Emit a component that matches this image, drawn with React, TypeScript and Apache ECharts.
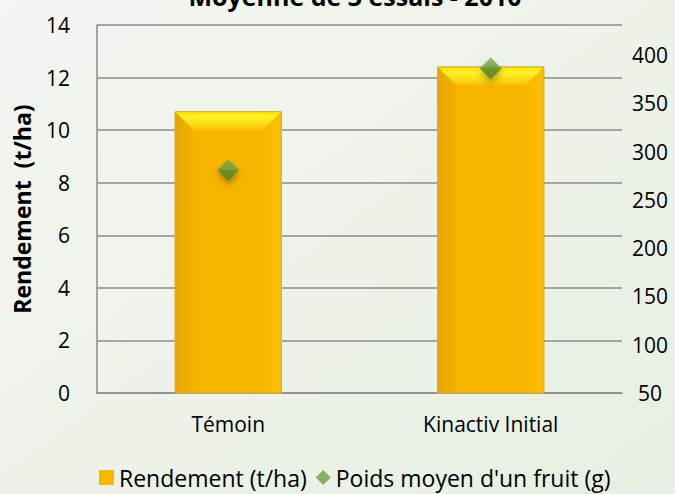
import React, { useEffect, useRef } from "react";
import * as echarts from "echarts";

const categories = ["Témoin", "Kinactiv Initial"];
const rendement = [10.7, 12.4];
const poidsMoyen = [281, 386];
const leftTicks = [0, 14, 2];
const rightTicks = [50, 431, 50];

const FONT = "Open Sans";

export default function App() {
  const ref = useRef<HTMLDivElement>(null);
  useEffect(() => {
    document.body.style.margin = "0";
    const chart = echarts.init(ref.current!, null, { renderer: "svg" });
    const barData = rendement.map((v, i) => [i, v]);
    chart.setOption({
      animation: false,
      backgroundColor: new echarts.graphic.LinearGradient(0, 0, 1, 1, [
        { offset: 0, color: "#f3f6f1" },
        { offset: 1, color: "#e7efe2" },
      ]),
      title: {
        text: "Moyenne de 3 essais - 2010",
        left: 350,
        textAlign: "center",
        top: -22,
        textStyle: { fontFamily: FONT, fontWeight: "bold", fontSize: 25, color: "#000" },
      },
      grid: { left: 97, right: 53, top: 25, bottom: 101, outerBoundsMode: "none", containLabel: false },
      legend: {
        bottom: 0,
        left: 94,
        itemWidth: 15,
        itemHeight: 15,
        itemGap: 9,
        textStyle: { fontFamily: FONT, fontSize: 23, color: "#000" },
        data: [
          { name: "Rendement (t/ha)", icon: "rect", itemStyle: { color: "#f7b800" } },
          { name: "Poids moyen d'un fruit (g)", icon: "diamond", itemStyle: { color: "#6e9e40" } },
        ],
      },
      xAxis: {
        type: "category",
        data: categories,
        axisTick: { show: false },
        axisLine: { show: true, lineStyle: { color: "#8c8c8c", width: 1.5 } },
        axisLabel: { margin: 20, fontFamily: FONT, fontSize: 21, color: "#000" },
      },
      yAxis: [
        {
          type: "value",
          name: "Rendement  (t/ha)",
          nameLocation: "middle",
          nameGap: 64,
          nameRotate: 90,
          nameTextStyle: { fontFamily: FONT, fontWeight: "bold", fontSize: 23, color: "#000" },
          min: leftTicks[0],
          max: leftTicks[1],
          interval: leftTicks[2],
          axisLine: { show: true, lineStyle: { color: "#8c8c8c", width: 1.5 } },
          axisTick: { show: false },
          splitLine: { lineStyle: { color: "#8c8c8c", width: 1.5 } },
          axisLabel: { margin: 27, fontFamily: FONT, fontSize: 21, color: "#000" },
        },
        {
          type: "value",
          position: "right",
          min: rightTicks[0],
          max: rightTicks[1],
          interval: rightTicks[2],
          axisLine: { show: false },
          axisTick: { show: false },
          splitLine: { show: false },
          axisLabel: {
            margin: 28,
            align: "center",
            showMaxLabel: false,
            fontFamily: FONT,
            fontSize: 21,
            color: "#000",
          },
        },
      ],
      series: [
        {
          name: "Rendement (t/ha)",
          type: "custom",
          itemStyle: { color: "#f7b800" },
          encode: { x: 0, y: 1 },
          data: barData,
          renderItem: (params: any, api: any) => {
            const idx = api.value(0);
            const val = api.value(1);
            const top = api.coord([idx, val]);
            const bot = api.coord([idx, 0]);
            const w = api.size([1, 0])[0] * 0.404;
            const l = top[0] - w / 2;
            const r = top[0] + w / 2;
            const t = top[1];
            const b = bot[1];
            const bv = 18;
            return {
              type: "group",
              children: [
                {
                  type: "rect",
                  shape: { x: l, y: t, width: r - l, height: b - t },
                  style: { fill: "#f7b500", stroke: "#c9a43c", lineWidth: 1 },
                },
                {
                  type: "polygon",
                  shape: { points: [[l, t], [l + bv, t + bv], [l + bv, b], [l, b]] },
                  style: {
                    fill: new echarts.graphic.LinearGradient(0, 0, 1, 0, [
                      { offset: 0, color: "#e9a500" },
                      { offset: 1, color: "#f3b100" },
                    ]),
                  },
                },
                {
                  type: "polygon",
                  shape: { points: [[r, t], [r - bv, t + bv], [r - bv, b], [r, b]] },
                  style: {
                    fill: new echarts.graphic.LinearGradient(0, 0, 1, 0, [
                      { offset: 0, color: "#f9b900" },
                      { offset: 1, color: "#fbbf05" },
                    ]),
                  },
                },
                {
                  type: "polygon",
                  shape: { points: [[l, t], [r, t], [r - bv, t + bv], [l + bv, t + bv]] },
                  style: {
                    fill: new echarts.graphic.LinearGradient(0, 0, 0, 1, [
                      { offset: 0, color: "#ffe600" },
                      { offset: 0.35, color: "#fff02a" },
                      { offset: 1, color: "#f8c400" },
                    ]),
                  },
                },
                {
                  type: "rect",
                  shape: { x: l, y: t, width: r - l, height: b - t },
                  style: { fill: "none", stroke: "#d4ad3c", lineWidth: 1 },
                },
              ],
            };
          },
          z: 2,
        },
        {
          name: "Poids moyen d'un fruit (g)",
          type: "scatter",
          yAxisIndex: 1,
          data: poidsMoyen,
          symbol: "diamond",
          symbolSize: 22,
          z: 5,
          itemStyle: {
            color: new echarts.graphic.LinearGradient(0, 0, 0, 1, [
              { offset: 0, color: "#7cae4c" },
              { offset: 0.5, color: "#6a9c3c" },
              { offset: 0.5, color: "#578a2e" },
              { offset: 1, color: "#4f8028" },
            ]),
            shadowColor: "rgba(0,0,0,0.35)",
            shadowBlur: 6,
            shadowOffsetY: 4,
          },
        },
      ],
    });
    return () => chart.dispose();
  }, []);
  return <div ref={ref} style={{ width: 675, height: 494 }} />;
}
